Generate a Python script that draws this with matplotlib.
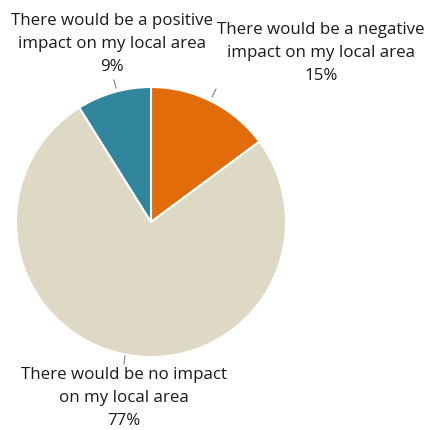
import matplotlib
matplotlib.use("Agg")
import matplotlib.pyplot as plt

# Survey answers, clockwise from 12 o'clock
labels = [
    "There would be a negative\nimpact on my local area",
    "There would be no impact\non my local area",
    "There would be a positive\nimpact on my local area",
]
shares = [15, 77, 9]
colors = ["#E36C0A", "#DDD9C4", "#31859C"]

W, H = 429, 430
fig = plt.figure(figsize=(W / 100, H / 100), dpi=100)
ax = fig.add_axes([0, 0, 1, 1])

cx, cy, r = 151, H - 222, 135
ax.pie(shares, colors=colors, startangle=90, counterclock=False,
       center=(cx, cy), radius=r,
       wedgeprops=dict(edgecolor="white", linewidth=1.5))
ax.set_xlim(0, W)
ax.set_ylim(0, H)
ax.set_aspect("equal")
ax.axis("off")

# label positions (text centre) and leader lines
label_xy = [(321, H - 53), (124, H - 398), (112, H - 44)]
leaders = [((212, H - 97), (216, H - 89)),
           ((124, H - 364), (125, H - 356)),
           ((114, H - 80), (116, H - 88))]

for lab, val, (tx, ty), (p0, p1) in zip(labels, shares, label_xy, leaders):
    ax.text(tx, ty, f"{lab}\n{val}%", ha="center", va="center",
            fontsize=12.2, family="Open Sans", color="#1a1a1a",
            linespacing=1.58)
    ax.plot([p0[0], p1[0]], [p0[1], p1[1]], color="#7f7f7f", lw=0.8)

fig.savefig("out.png", dpi=100)
